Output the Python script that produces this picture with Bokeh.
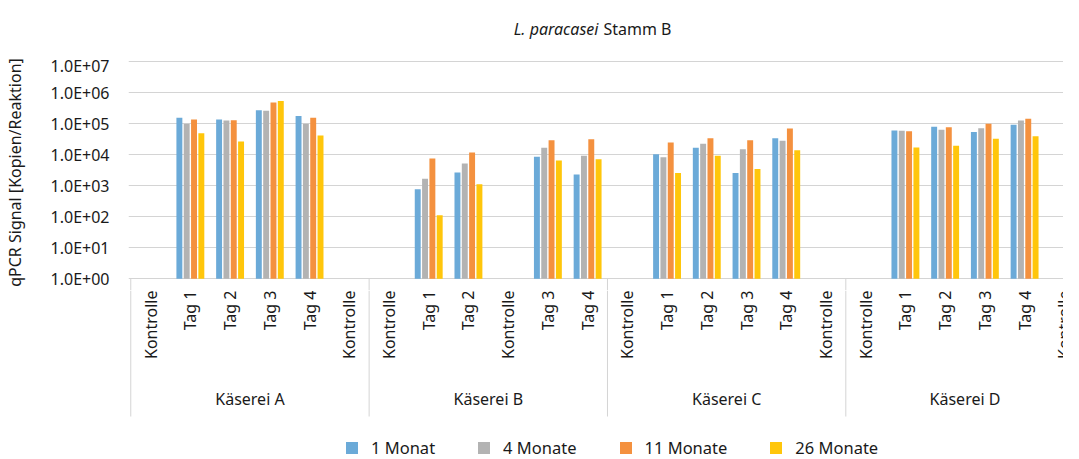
import math
from bokeh.plotting import figure
from bokeh.models import Range1d, FixedTicker, Legend, LegendItem
from bokeh.layouts import column
from bokeh.embed import file_html
from bokeh.resources import INLINE
from bokeh.core.properties import value

# ---------------- data ----------------
title_italic = "L. paracasei"
title_rest = "Stamm B"
y_axis_title = "qPCR Signal [Kopien/Reaktion]"
groups = ["Käserei A", "Käserei B", "Käserei C", "Käserei D"]
categories = [
    "Kontrolle", "Tag 1", "Tag 2", "Tag 3", "Tag 4", "Kontrolle",
    "Kontrolle", "Tag 1", "Tag 2", "Kontrolle", "Tag 3", "Tag 4",
    "Kontrolle", "Tag 1", "Tag 2", "Tag 3", "Tag 4", "Kontrolle",
    "Kontrolle", "Tag 1", "Tag 2", "Tag 3", "Tag 4", "Kontrolle",
]
series_names = ["1 Monat", "4 Monate", "11 Monate", "26 Monate"]
N = None
monat_1 = [N, 1.56e5, 1.38e5, 2.76e5, 1.77e5, N,
           N, 7.8e2, 2.7e3, N, 8.6e3, 2.3e3,
           N, 1.05e4, 1.68e4, 2.6e3, 3.4e4, N,
           N, 6.1e4, 8.0e4, 5.4e4, 9.3e4, N]
monate_4 = [N, 1.0e5, 1.28e5, 2.63e5, 1.0e5, N,
            N, 1.68e3, 5.25e3, N, 1.68e4, 9.3e3,
            N, 8.4e3, 2.26e4, 1.52e4, 2.83e4, N,
            N, 6.0e4, 6.4e4, 7.2e4, 1.28e5, N]
monate_11 = [N, 1.38e5, 1.31e5, 4.9e5, 1.56e5, N,
             N, 7.6e3, 1.19e4, N, 2.97e4, 3.2e4,
             N, 2.5e4, 3.45e4, 2.97e4, 7.1e4, N,
             N, 5.8e4, 7.8e4, 1.0e5, 1.45e5, N]
monate_26 = [N, 5.0e4, 2.7e4, 5.4e5, 4.2e4, N,
             N, 1.13e2, 1.13e3, N, 6.6e3, 7.2e3,
             N, 2.6e3, 9.3e3, 3.5e3, 1.41e4, N,
             N, 1.73e4, 1.95e4, 3.28e4, 4.0e4, N]
series_values = [monat_1, monate_4, monate_11, monate_26]
y_ticks = [1e0, 1e1, 1e2, 1e3, 1e4, 1e5, 1e6, 1e7]
y_tick_labels = ["1.0E+00", "1.0E+01", "1.0E+02", "1.0E+03",
                 "1.0E+04", "1.0E+05", "1.0E+06", "1.0E+07"]
colors = ["#6BAAD8", "#B3B3B3", "#F4913F", "#FFC60B"]

# ---------------- layout constants ----------------
FONT = "Noto Sans"
TXT = "#1a1a1a"
GRID = "#D4D4D4"
W = 1063            # 1079 window - 2 * 8px margin
X0 = 120.3          # figure px of category boundary 0
CAT = 40.15         # px per category
DEC = 31.0          # px per decade
BAR_PITCH = 7.4 / CAT
BAR_W = 6.0 / CAT
LEFT = 118
n_cat = len(categories)
x_range = Range1d((LEFT - X0) / CAT, (W - X0) / CAT)
H0, H1, H2 = 54, 236, 169

def fig_x(px):
    """figure-pixel position -> category units"""
    return (px - X0) / CAT

# ---------------- title ----------------
pt = figure(width=W, height=H0, x_range=x_range, y_range=Range1d(H0, 0),
            x_axis_location=None, y_axis_location=None, toolbar_location=None,
            output_backend="svg", min_border_left=LEFT, min_border_right=0,
            min_border_top=0, min_border_bottom=0, outline_line_color=None)
pt.xgrid.visible = False
pt.ygrid.visible = False
pt.text(x=[fig_x(593)], y=[28], text=[title_italic], text_align="right", text_baseline="middle",
        text_font=value(FONT), text_font_style="italic", text_font_size="16px", text_color=TXT)
pt.text(x=[fig_x(598)], y=[28], text=[title_rest], text_align="left", text_baseline="middle",
        text_font=value(FONT), text_font_size="16px", text_color=TXT)

# ---------------- main chart ----------------
below_px = H1 - 7.3 - 7 * DEC
y_start = 10 ** (-below_px / DEC)
y_end = 10 ** (7 + 7.3 / DEC)
p = figure(width=W, height=H1, y_axis_type="log",
           x_range=x_range, y_range=Range1d(y_start, y_end),
           x_axis_location=None, toolbar_location=None, output_backend="svg",
           min_border_left=LEFT, min_border_right=0, min_border_top=0, min_border_bottom=0,
           outline_line_color=None)
p.xgrid.visible = False
p.ygrid.ticker = FixedTicker(ticks=y_ticks)
p.ygrid.grid_line_color = GRID
p.ygrid.grid_line_width = 1
ax = p.yaxis[0]
ax.ticker = FixedTicker(ticks=y_ticks)
ax.major_label_overrides = {t: l for t, l in zip(y_ticks, y_tick_labels)}
ax.axis_line_color = None
ax.major_tick_line_color = None
ax.minor_tick_line_color = None
ax.major_label_standoff = 13
ax.major_label_text_font = FONT
ax.major_label_text_font_size = "16px"
ax.major_label_text_color = TXT
ax.axis_label = y_axis_title
ax.axis_label_text_font = FONT
ax.axis_label_text_font_size = "16px"
ax.axis_label_text_font_style = "normal"
ax.axis_label_text_color = TXT
ax.axis_label_standoff = 22

for k, (vals, col) in enumerate(zip(series_values, colors)):
    xs = [i + 0.5 + (k - 1.5) * BAR_PITCH for i, v in enumerate(vals) if v is not None]
    tops = [v for v in vals if v is not None]
    p.vbar(x=xs, top=tops, bottom=1, width=BAR_W, fill_color=col, line_color=None)

per_group = n_cat // len(groups)
bounds = [g * per_group for g in range(len(groups) + 1)]
p.segment(x0=bounds, y0=[1] * len(bounds), x1=bounds, y1=[y_start] * len(bounds),
          line_color=GRID, line_width=1)

# ---------------- category labels + legend ----------------
p2 = figure(width=W, height=H2, x_range=x_range, y_range=Range1d(H2, 0),
            x_axis_location=None, y_axis_location=None, toolbar_location=None,
            output_backend="svg", min_border_left=LEFT, min_border_right=0,
            min_border_top=0, min_border_bottom=0, outline_line_color=None)
p2.xgrid.visible = False
p2.ygrid.visible = False

cat_x = [i + 0.5 for i in range(n_cat)]
p2.text(x=cat_x, y=[0] * n_cat, text=categories, angle=math.pi / 2,
        text_align="right", text_baseline="middle",
        text_font=value(FONT), text_font_size="16px", text_color=TXT)

p2.segment(x0=bounds, y0=[0] * len(bounds), x1=bounds, y1=[126] * len(bounds),
           line_color=GRID, line_width=1)
grp_x = [g * per_group + per_group / 2 for g in range(len(groups))]
p2.text(x=grp_x, y=[108] * len(groups), text=groups, text_align="center",
        text_baseline="middle", text_font=value(FONT), text_font_size="16px", text_color=TXT)

items = []
for name, col in zip(series_names, colors):
    r = p2.vbar(x=[-50], top=[0], bottom=[0], width=0.1, fill_color=col, line_color=None)
    items.append(LegendItem(label=name, renderers=[r]))
legend = Legend(items=items, orientation="horizontal", location=(216, 0),
                glyph_width=15, glyph_height=15, label_standoff=12, spacing=41,
                padding=0, margin=0, border_line_color=None, background_fill_alpha=0,
                label_text_font=FONT, label_text_font_size="16.5px", label_text_color=TXT,
                label_height=15)
p2.add_layout(legend)

layout = column(pt, p, p2, spacing=0)
open("out.html", "w").write(file_html(layout, INLINE))
